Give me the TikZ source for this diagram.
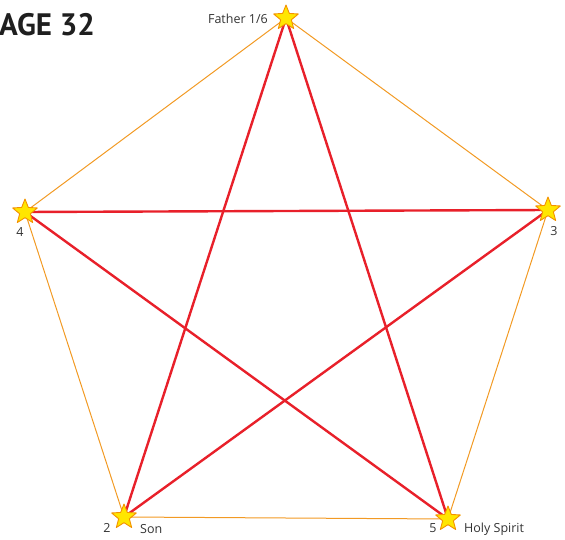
\documentclass[tikz,border=0pt]{standalone}
\usepackage{fontspec}
\setmainfont{PT Sans}
\newfontfamily\lblfont{Open Sans}
\usetikzlibrary{shapes.geometric}
\definecolor{pred}{HTML}{E8202A}
\definecolor{porange}{HTML}{F29A24}
\definecolor{pyellow}{HTML}{FFE600}
\definecolor{pborder}{HTML}{F39200}
\tikzset{
  starnode/.style={star, star points=5, star point ratio=2.3, minimum size=26pt, inner sep=0pt,
    fill=pyellow, draw=pborder, line width=0.9pt, line join=round},
  edgeline/.style={draw=porange, line width=1pt},
  redline/.style={draw=pred, line width=2.4pt, line cap=round},
  lbl/.style={font=\lblfont\fontsize{12.5}{14}\selectfont, text=black!80, inner sep=0pt},
}
\begin{document}
\begin{tikzpicture}[x=1pt,y=-1pt]
\useasboundingbox (0,0) rectangle (565,540);
\coordinate (T) at (286,18);
\coordinate (L) at (25,212);
\coordinate (R) at (548,210);
\coordinate (BL) at (124,517);
\coordinate (BR) at (448,519);
% orange pentagon
\draw[edgeline] (T) -- (L);
\draw[edgeline] (T) -- (R);
\draw[edgeline] (L) -- (BL);
\draw[edgeline] (R) -- (BR);
\draw[edgeline] (BL) -- (BR);
% red pentagram
\draw[redline] (T) -- (BL);
\draw[redline] (T) -- (BR);
\draw[redline] (L) -- (R);
\draw[redline] (L) -- (BR);
\draw[redline] (R) -- (BL);
% stars
\node[starnode] (sT) at (T) {};
\node[starnode] (sL) at (L) {};
\node[starnode] (sR) at (R) {};
\node[starnode] (sBL) at (BL) {};
\node[starnode] (sBR) at (BR) {};
% labels
\node[lbl, anchor=east] (lT) at (268,19) {Father 1/6};
\node[lbl] (lL) at (20,232) {4};
\node[lbl] (lR) at (554,231) {3};
\node[lbl] (lBL) at (107,528) {2};
\node[lbl, anchor=west] (lBL2) at (140,529) {Son};
\node[lbl] (lBR) at (433,528) {5};
\node[lbl, anchor=west] (lBR2) at (464,529) {Holy Spirit};
% title
\node[anchor=west, inner sep=0pt, font=\fontsize{31}{34}\bfseries\selectfont, text=black!88] (title) at (-1,25) {AGE 32};
\end{tikzpicture}
\end{document}
